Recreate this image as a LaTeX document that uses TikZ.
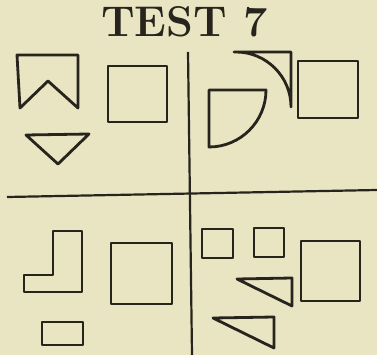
\documentclass[tikz,border=0pt]{standalone}
\usepackage{tikz}
\definecolor{paper}{RGB}{233,228,194}
\definecolor{ink}{RGB}{38,36,28}
\tikzset{
  fig/.style={draw=ink,line width=2.8pt,line join=round},
  rule/.style={draw=ink,line width=2.2pt},
}
\begin{document}
\begin{tikzpicture}[x=1pt,y=-1pt]
            \fill[paper] (0,0) rectangle (377,355);
            \useasboundingbox (0,0) rectangle (377,355);
            \node[anchor=base west,inner sep=0pt,text=ink,font=\fontsize{43}{50}\selectfont\bfseries] (title) at (101,37) {TEST 7};
            % dividing lines
            \draw[rule] (188,52) -- (192,355);
            \draw[rule] (7,197) -- (377,190);
            % top left
            \draw[fig] (17,55) -- (78,55) -- (78,108) -- (48,81) -- (20,108) -- cycle;
            \draw[fig] (108,66) rectangle (167,122);
            \draw[fig] (26,135) -- (89,134) -- (58,164) -- cycle;
            % top right
            \draw[fig] (234,52) -- (291,52) -- (291,107) arc[start angle=0,end angle=-90,radius=55] -- cycle;
            \draw[fig] (266,90) -- (209,90) -- (209,147) arc[start angle=90,end angle=0,radius=57] -- cycle;
            \draw[fig] (298,61) rectangle (358,118);
            % bottom left
            \draw[fig] (53,231) -- (82,231) -- (82,292) -- (24,292) -- (24,275) -- (53,275) -- cycle;
            \draw[fig] (111,243) rectangle (172,304);
            \draw[fig] (42,322) rectangle (83,345);
            % bottom right
            \draw[fig] (202,229) rectangle (233,258);
            \draw[fig] (254,228) rectangle (284,257);
            \draw[fig] (301,241) rectangle (360,301);
            \draw[fig] (237,279) -- (292,278) -- (292,306) -- cycle;
            \draw[fig] (213,318) -- (274,317) -- (274,348) -- cycle;
\end{tikzpicture}
\end{document}
